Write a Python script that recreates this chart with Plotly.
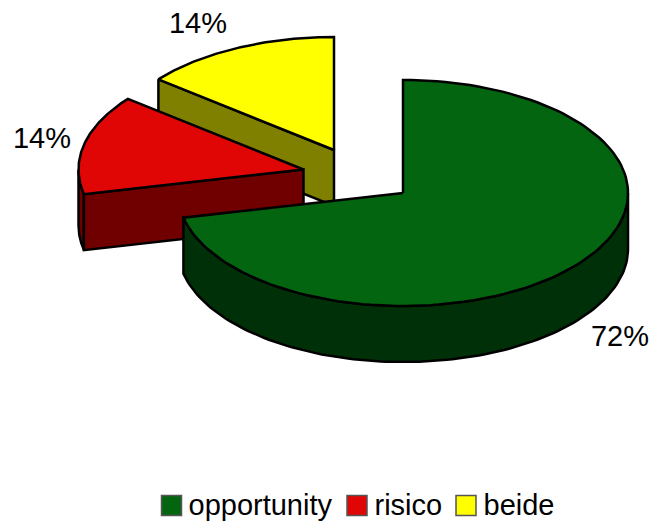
import numpy as np
import plotly.graph_objects as go

categories = ["opportunity", "risico", "beide"]
values = [71.5, 14.25, 14.25]
top_colors = ["#03650F", "#E00606", "#FFFF00"]
side_colors = ["#003008", "#700000", "#808000"]

W, H = 652, 524
RX, RY, DEPTH = 225, 113, 56
centers = [(403, 193), (303.5, 169.5), (334, 150)]
label_pos = [(620, 339), (42, 141), (198, 26)]
legend_marks = [171.5, 357, 466]
legend_texts = [188.5, 374.5, 483.5]
LEGEND_Y = 505.5
LEGEND_TEXT_Y = 508
FONT = "Liberation Sans, Arial, sans-serif"
FS = 29

total = sum(values)
cum = np.cumsum([0] + values) / total * 2 * np.pi


def arc(c, a0, a1, dy=0, n=120):
    t = np.linspace(a0, a1, n)
    return c[0] + RX * np.sin(t), c[1] - RY * np.cos(t) + dy


fig = go.Figure()


def poly(xs, ys, color, name):
    fig.add_trace(go.Scatter(
        x=list(xs) + [xs[0]], y=list(ys) + [ys[0]], mode="lines", fill="toself",
        fillcolor=color, line=dict(color="black", width=2.5), name=name,
        showlegend=False, hoverinfo="name", cliponaxis=False))


# Draw back slices first, the main slice last
for i in [2, 1, 0]:
    c = centers[i]
    a0, a1 = cum[i], cum[i + 1]
    name = categories[i]
    # outer wall: the front half of the rim only (90..270 degrees)
    w0, w1 = max(a0, np.pi / 2), min(a1, 3 * np.pi / 2)
    if w1 > w0:
        xt, yt = arc(c, w0, w1)
        xb, yb = arc(c, w0, w1, DEPTH)
        poly(np.r_[xt, xb[::-1]], np.r_[yt, yb[::-1]], side_colors[i], name)
    # inner cut face visible on slices that sit left of the centre
    if i > 0:
        ex, ey = arc(c, a0, a0, n=1)
        poly([ex[0], c[0], c[0], ex[0]], [ey[0], c[1], c[1] + DEPTH, ey[0] + DEPTH],
             side_colors[i], name)
    # top face
    xt, yt = arc(c, a0, a1)
    poly(np.r_[c[0], xt], np.r_[c[1], yt], top_colors[i], name)

# Percentage labels
fig.add_trace(go.Scatter(
    x=[p[0] for p in label_pos], y=[p[1] for p in label_pos], mode="text",
    text=[f"{round(v / total * 100)}%" for v in values],
    textposition="middle center", textfont=dict(family=FONT, size=FS, color="black"),
    showlegend=False, hoverinfo="skip", cliponaxis=False))

# Legend
fig.add_trace(go.Scatter(
    x=legend_marks, y=[LEGEND_Y] * 3, mode="markers",
    marker=dict(symbol="square", size=20, color=top_colors, line=dict(color="#555555", width=1.5)),
    showlegend=False, hoverinfo="skip", cliponaxis=False))
fig.add_trace(go.Scatter(
    x=legend_texts, y=[LEGEND_TEXT_Y] * 3, mode="text", text=categories,
    textposition="middle right", textfont=dict(family=FONT, size=FS, color="black"),
    showlegend=False, hoverinfo="skip", cliponaxis=False))

fig.update_layout(
    width=W, height=H, margin=dict(l=0, r=0, t=0, b=0),
    paper_bgcolor="white", plot_bgcolor="white", showlegend=False,
    xaxis=dict(range=[0, W], visible=False, fixedrange=True),
    yaxis=dict(range=[H, 0], visible=False, fixedrange=True),
)
fig.write_html("out.html", config=dict(displayModeBar=False),
               post_script="document.body.style.margin='0';document.documentElement.style.overflow='hidden';")
